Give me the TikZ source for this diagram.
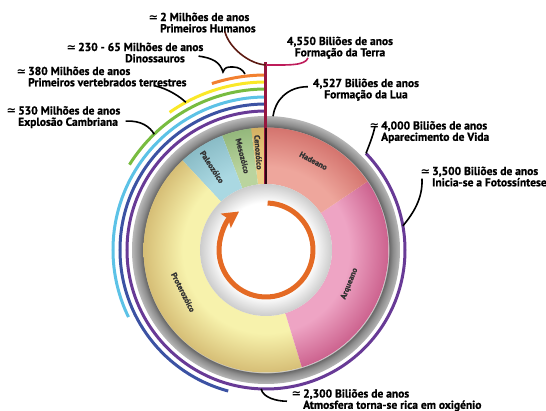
\documentclass[tikz,border=0pt]{standalone}
\usepackage{fontspec}
\setmainfont{PT Sans}[BoldFont={PT Sans Bold}, BoldFeatures={FakeBold=1}]
\newfontfamily\symfont{DejaVu Sans}
\usetikzlibrary{arrows.meta}

\definecolor{roxo}{RGB}{104,58,150}
\definecolor{azul}{RGB}{60,82,163}
\definecolor{ciano}{RGB}{92,194,230}
\definecolor{verde}{RGB}{120,188,64}
\definecolor{amarelo}{RGB}{250,232,40}
\definecolor{laranja}{RGB}{242,128,48}
\definecolor{carmim}{RGB}{190,28,90}
\definecolor{eixo}{RGB}{150,22,62}
\definecolor{castanho}{RGB}{92,26,18}
\definecolor{hadeano}{RGB}{238,166,156}
\definecolor{arqueano}{RGB}{238,164,196}
\definecolor{proterozoico}{RGB}{247,242,172}
\definecolor{paleozoico}{RGB}{170,216,226}
\definecolor{mesozoico}{RGB}{186,212,158}
\definecolor{cenozoico}{RGB}{238,206,136}
\definecolor{seta}{RGB}{228,106,36}

% sombreados radiais
\newcommand{\sombra}[2]{%
  \pgfdeclareradialshading{sh#1}{\pgfpoint{0bp}{0bp}}{color(0bp)=(#1); color(17bp)=(#1);
    color(25bp)=(#2); color(50bp)=(#2)}}
\sombra{hadeano}{rgb,255:red,212;green,116;blue,110}
\sombra{arqueano}{rgb,255:red,204;green,98;blue,142}
\sombra{proterozoico}{rgb,255:red,214;green,190;blue,118}
\sombra{paleozoico}{rgb,255:red,138;green,188;blue,198}
\sombra{mesozoico}{rgb,255:red,148;green,184;blue,124}
\sombra{cenozoico}{rgb,255:red,212;green,176;blue,98}
\pgfdeclareradialshading{anelcinza}{\pgfpoint{0bp}{0bp}}{color(0bp)=(white); color(22.8bp)=(white);
  color(22.86bp)=(black!62); color(23.7bp)=(black!45); color(25bp)=(black!28); color(50bp)=(black!28)}
\pgfdeclareradialshading{centro}{\pgfpoint{0bp}{0bp}}{color(0bp)=(white); color(18bp)=(white);
  color(25bp)=(black!20); color(50bp)=(black!20)}

\newcommand{\quase}{\llap{{\symfont ≃}\,}}
\newcommand{\raiobranco}{66}
\newcommand{\raioanel}{122.5}

\begin{document}
\begin{tikzpicture}[
    x=1pt, y=1pt,
    rotulo/.style={font=\bfseries\fontsize{11.5}{11.3}\selectfont, align=left, inner sep=0pt, anchor=north west},
    era/.style={font=\bfseries\fontsize{8}{8}\selectfont, text=black!80, inner sep=0pt},
    ponteiro/.style={line width=1.6pt},
    periodo/.style={line width=3pt}
]
\useasboundingbox (-266,-161) rectangle (280,250);

% anel cinzento
\shade[shading=anelcinza] (0,0) circle (134);

% ERAS
\foreach \a/\b/\c in {90/97/cenozoico, 97/111/mesozoico, 111/133/paleozoico,
    133/287/proterozoico, 287/394/arqueano, 394/450/hadeano}
{
  \begin{scope}
    \clip (\a:\raiobranco) arc[start angle=\a, end angle=\b, radius=\raiobranco]
        -- (\b:\raioanel) arc[start angle=\b, end angle=\a, radius=\raioanel] -- cycle;
    \shade[shading=sh\c] (0,0) circle (\raioanel);
  \end{scope}
}

% centro branco
\shade[shading=centro] (0,0) circle (\raiobranco);

% seta circular
\draw[seta, line width=5pt, -{Stealth[length=16pt, width=17pt, inset=3pt]}]
    (88:47) arc[start angle=88, end angle=-235, radius=47];

% PERIODOS
\draw[periodo, roxo] (90:139) arc[start angle=90, end angle=404, radius=139];
\draw[periodo, azul] (90:146) arc[start angle=90, end angle=255, radius=146];
\draw[periodo, ciano] (90:153) arc[start angle=90, end angle=206, radius=153];
\draw[periodo, verde] (90:161) arc[start angle=90, end angle=148, radius=161];
\draw[periodo, amarelo] (90:168) arc[start angle=90, end angle=125, radius=168];
\draw[periodo, laranja] (90:175) arc[start angle=90, end angle=108, radius=175];

% eixo
\coordinate (topo) at (0,185);
\draw[eixo, line width=3pt] (0,188) -- (0,66);
\draw[black!70!eixo, line width=1.2pt] (0,122) -- (0,66);

% nomes das eras
\node[era, rotate=-28] (hadeanotxt) at (62:101) {Hadeano};
\node[era, rotate=68] (arqueanotxt) at (-22:90) {Arqueano};
\node[era, rotate=-63] (proterozoicotxt) at (207:93) {Proterozóico};
\node[era, rotate=-57] (paleozoicotxt) at (123:99) {Paleozóico};
\node[era, rotate=-76] (mesozoicotxt) at (104:97) {Mesozóico};
\node[era, rotate=-85.5] (cenozoicotxt) at (94.5:98) {Cenozóico};

% LABELS
\node[rotulo] (humanos) at (-106,237.5) {\quase 2 Milhões de anos\\Primeiros Humanos};
\node[rotulo] (dino) at (-188,207.5) {\quase 230 - 65 Milhões de anos\\\hspace*{47pt}Dinossauros};
\node[rotulo] (v380) at (-238,183.5) {\quase 380 Milhões de anos\\Primeiros vertebrados terrestres};
\node[rotulo] (camb) at (-248,144) {\quase 530 Milhões de anos\\Explosão Cambriana};
\node[rotulo, anchor=north, align=center] (terra) at (74,213.5) {4,550 Biliões de anos\\Formação da Terra};
\node[rotulo, anchor=north, align=center] (lua) at (100,171.5) {4,527 Biliões de anos\\Formação da Lua};
\node[rotulo] (vida) at (115,129) {\quase 4,000 Biliões de anos\\Aparecimento de Vida};
\node[rotulo] (foto) at (166,83.5) {\quase 3,500 Biliões de anos\\Inicia-se a Fotossíntese};
\node[rotulo] (dois) at (37,-139) {\quase 2,300 Biliões de anos\\Atmosfera torna-se rica em oxigénio};

% pontas dos ponteiros
\coordinate (luafim) at (87:134);
\coordinate (vidafim) at (44:139);
\coordinate (fotofim) at (10:139);
\coordinate (doisfim) at (268:139);
\coordinate (cambfim) at (134:161);
\coordinate (v380fim) at (118.5:168);
\coordinate (dinofim) at (-21,176);

\draw[ponteiro, castanho] ([xshift=17pt, yshift=1pt]humanos.south) .. controls +(4,-16) and +(-17,1) .. (topo);
\draw[ponteiro, carmim] ([xshift=-32pt, yshift=1pt]terra.south) .. controls +(-3,-8) and +(22,0) .. (topo);
\draw[ponteiro] ([xshift=-5pt, yshift=3pt]lua.west) .. controls +(-21,0) and +(2,15) .. (luafim);
\draw[ponteiro] ([xshift=-6pt, yshift=6pt]vida.west) .. controls +(-2,-10) and +(3,8) .. (vidafim);
\draw[ponteiro] ([xshift=-10pt, yshift=-2pt]foto.west) .. controls +(1,-20) and +(10,12) .. (fotofim);
\draw[ponteiro] (doisfim) .. controls +(2,-9) and +(-10,0) .. ([xshift=-16pt, yshift=-1pt]dois.west);
\draw[ponteiro] ([xshift=5pt, yshift=-4pt]camb.east) .. controls +(16,1) and +(-4,7) .. (cambfim);
\draw[ponteiro] ([xshift=47pt, yshift=1pt]v380.south) .. controls +(14,-3) and +(-5,5) .. (v380fim);
\draw[ponteiro] ([xshift=-5pt, yshift=-3.5pt]dino.east) .. controls +(14,-2) and +(-3,10) .. (-43,178)
    .. controls +(2,5) and +(-6,0) .. (-33,183) .. controls +(6,0) and +(-2,4) .. (dinofim);

\end{tikzpicture}
\end{document}
